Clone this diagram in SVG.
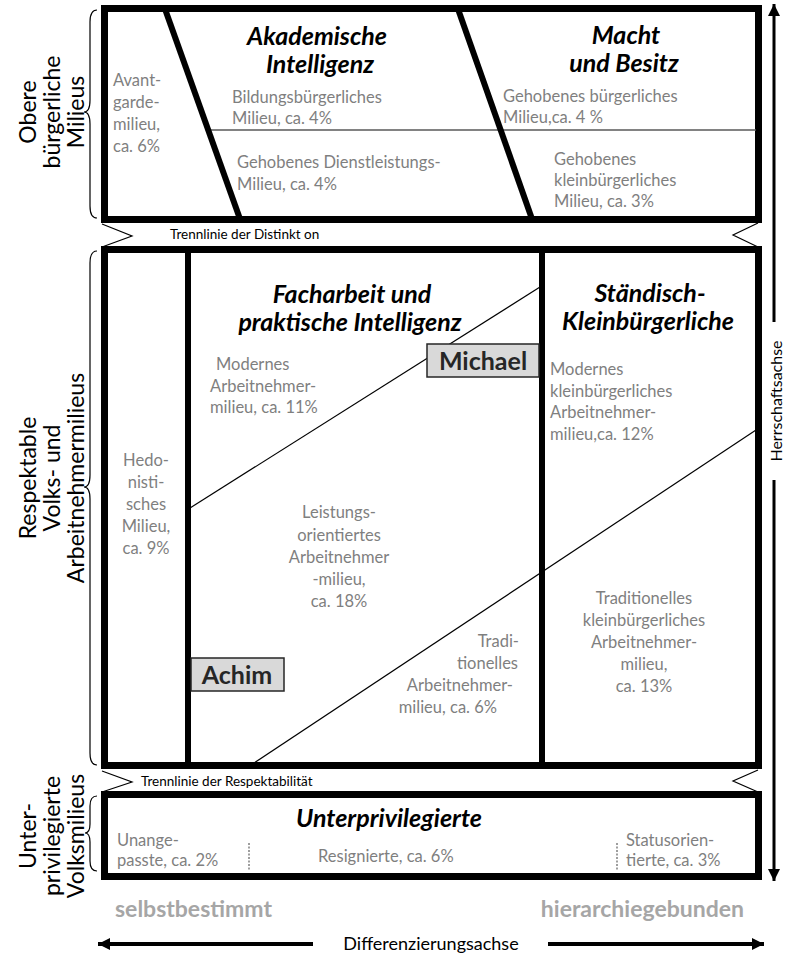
<svg xmlns="http://www.w3.org/2000/svg" width="786" height="954" viewBox="0 0 786 954">
<style>
text{font-family:Lato,"Liberation Sans",sans-serif}
.frame{fill:none;stroke:#000;stroke-width:7}
.thick{stroke:#000;stroke-width:6;fill:none}
.thin{stroke:#000;stroke-width:1.2;fill:none}
.grayline{stroke:#595959;stroke-width:1.5}
.g{fill:#7f7f7f;font-size:16.5px}
.h{fill:#000;font-size:25px;font-weight:bold;font-style:italic;text-anchor:middle}
.side{fill:#000;font-size:23px;text-anchor:middle}
.sep{fill:#000;font-size:13.5px}
.brace{fill:none;stroke:#000;stroke-width:1.2}
.name{fill:#d9d9d9;stroke:#262626;stroke-width:1.5}
.nt{fill:#262626;font-size:25px;font-weight:bold;text-anchor:middle}
.pole{fill:#a6a6a6;font-size:23px;font-weight:bold}
.chev{fill:none;stroke:#000;stroke-width:1.2}
.dash{stroke:#7f7f7f;stroke-width:1.5;stroke-dasharray:2,1.5}
.c{text-anchor:middle}
.axis{stroke:#000;fill:none}
</style>
<defs>
<marker id="ah" markerWidth="12" markerHeight="12" refX="12" refY="6" orient="auto" markerUnits="userSpaceOnUse">
<path d="M0,0 L12,6 L0,12 z" fill="#000"/>
</marker>
</defs>
<rect width="786" height="954" fill="#fff"/>

<g id="side-labels">
<text class="side" transform="translate(36,112) rotate(-90)">Obere</text>
<text class="side" transform="translate(60,112) rotate(-90)">bürgerliche</text>
<text class="side" transform="translate(84,112) rotate(-90)">Milieus</text>
<path class="brace" d="M97,10 Q90,10 90,22 L90,100 Q90,112 84,112 Q90,112 90,124 L90,206 Q90,218 97,218"/>
<text class="side" transform="translate(36,478) rotate(-90)">Respektable</text>
<text class="side" transform="translate(60,478) rotate(-90)">Volks- und</text>
<text class="side" transform="translate(84,478) rotate(-90)">Arbeitnehmermilieus</text>
<path class="brace" d="M97,251 Q90,251 90,263 L90,475 Q90,487 84,487 Q90,487 90,499 L90,753 Q90,765 97,765"/>
<text class="side" transform="translate(36,836) rotate(-90)">Unter-</text>
<text class="side" transform="translate(60,836) rotate(-90)">privilegierte</text>
<text class="side" transform="translate(84,836) rotate(-90)">Volksmilieus</text>
<path class="brace" d="M97,796 Q90,796 90,806 L90,824 Q90,833 85,833 Q90,833 90,842 L90,861 Q90,871 97,871"/>
</g>

<g id="top-section">
<rect class="frame" x="104.5" y="8.5" width="654" height="211"/>
<line class="grayline" x1="208" y1="130" x2="756" y2="130"/>
<line class="thick" x1="165" y1="9" x2="240" y2="219"/>
<line class="thick" x1="458" y1="9" x2="532" y2="219"/>
<text class="h" x="317" y="45">Akademische</text>
<text class="h" x="320" y="73">Intelligenz</text>
<text class="h" x="626" y="44">Macht</text>
<text class="h" x="624" y="72">und Besitz</text>
<text class="g"><tspan x="113" y="86">Avant-</tspan><tspan x="113" y="108">garde-</tspan><tspan x="113" y="130">milieu,</tspan><tspan x="113" y="152">ca. 6%</tspan></text>
<text class="g"><tspan x="232" y="103">Bildungsbürgerliches</tspan><tspan x="232" y="124">Milieu, ca. 4%</tspan></text>
<text class="g"><tspan x="237" y="168">Gehobenes Dienstleistungs-</tspan><tspan x="237" y="190">Milieu, ca. 4%</tspan></text>
<text class="g"><tspan x="503" y="102">Gehobenes bürgerliches</tspan><tspan x="503" y="123">Milieu,ca. 4 %</tspan></text>
<text class="g"><tspan x="554" y="165">Gehobenes</tspan><tspan x="554" y="186">kleinbürgerliches</tspan><tspan x="554" y="207">Milieu, ca. 3%</tspan></text>
</g>

<g id="sep-distinktion">
<polyline class="chev" points="102,224 132,236 102,247"/>
<polyline class="chev" points="758,223 733,235 758,247"/>
<text class="sep" x="170" y="239">Trennlinie der Distinkt on</text>
</g>

<g id="middle-section">
<rect class="frame" x="104.5" y="249.5" width="654" height="516"/>
<line class="thick" x1="188" y1="250" x2="188" y2="766"/>
<line class="thick" x1="542" y1="250" x2="542" y2="766"/>
<line class="thin" x1="190" y1="508" x2="540" y2="287"/>
<line class="thin" x1="251" y1="765" x2="756" y2="430"/>
<text class="h" x="352" y="303">Facharbeit und</text>
<text class="h" x="350" y="331">praktische Intelligenz</text>
<text class="h" x="650" y="302">Ständisch-</text>
<text class="h" x="648" y="330">Kleinbürgerliche</text>
<text class="g"><tspan x="216" y="370">Modernes</tspan><tspan x="210" y="392">Arbeitnehmer-</tspan><tspan x="210" y="413">milieu, ca. 11%</tspan></text>
<text class="g"><tspan x="550" y="375">Modernes</tspan><tspan x="550" y="397">kleinbürgerliches</tspan><tspan x="550" y="418">Arbeitnehmer-</tspan><tspan x="550" y="440">milieu,ca. 12%</tspan></text>
<text class="g c"><tspan x="146" y="466">Hedo-</tspan><tspan x="146" y="488">nisti-</tspan><tspan x="146" y="510">sches</tspan><tspan x="146" y="532">Milieu,</tspan><tspan x="146" y="554">ca. 9%</tspan></text>
<text class="g c"><tspan x="339" y="518">Leistungs-</tspan><tspan x="339" y="541">orientiertes</tspan><tspan x="339" y="563">Arbeitnehmer</tspan><tspan x="339" y="585">-milieu,</tspan><tspan x="339" y="607">ca. 18%</tspan></text>
<text class="g" text-anchor="end"><tspan x="519" y="647">Tradi-</tspan><tspan x="518" y="669">tionelles</tspan><tspan x="513" y="691">Arbeitnehmer-</tspan><tspan x="497" y="713">milieu, ca. 6%</tspan></text>
<text class="g c"><tspan x="644" y="604">Traditionelles</tspan><tspan x="644" y="626">kleinbürgerliches</tspan><tspan x="644" y="648">Arbeitnehmer-</tspan><tspan x="644" y="670">milieu,</tspan><tspan x="644" y="692">ca. 13%</tspan></text>
</g>

<g id="michael">
<rect class="name" x="427" y="344" width="112" height="33"/>
<text class="nt" x="483" y="370">Michael</text>
</g>
<g id="achim">
<rect class="name" x="191" y="658" width="93" height="33"/>
<text class="nt" x="237" y="684">Achim</text>
</g>

<g id="sep-respektabilitaet">
<polyline class="chev" points="102,771 132,782 102,792"/>
<polyline class="chev" points="758,770 733,781 758,792"/>
<text class="sep" x="141" y="786">Trennlinie der Respektabilität</text>
</g>

<g id="bottom-section">
<rect class="frame" x="104.5" y="794.5" width="654" height="82"/>
<text class="h" x="389" y="827">Unterprivilegierte</text>
<text class="g"><tspan x="117" y="846">Unange-</tspan><tspan x="117" y="866">passte, ca. 2%</tspan></text>
<line class="dash" x1="249" y1="843" x2="249" y2="870"/>
<text class="g" x="318" y="862">Resignierte, ca. 6%</text>
<line class="dash" x1="617" y1="843" x2="617" y2="870"/>
<text class="g"><tspan x="626" y="846">Statusorien-</tspan><tspan x="626" y="866">tierte, ca. 3%</tspan></text>
</g>

<g id="connectors">
<line class="axis" x1="774" y1="322" x2="774" y2="4" stroke-width="3" marker-end="url(#ah)"/>
<line class="axis" x1="774" y1="480" x2="774" y2="881" stroke-width="3" marker-end="url(#ah)"/>
<line class="axis" x1="313" y1="944" x2="98" y2="944" stroke-width="4" marker-end="url(#ah)"/>
<line class="axis" x1="548" y1="944" x2="764" y2="944" stroke-width="4" marker-end="url(#ah)"/>
</g>

<g id="axis-labels">
<text fill="#000" font-size="16" text-anchor="middle" transform="translate(782,401) rotate(-90)">Herrschaftsachse</text>
<text fill="#000" font-size="18" text-anchor="middle" x="431" y="950">Differenzierungsachse</text>
<text class="pole" x="115" y="917">selbstbestimmt</text>
<text class="pole" x="744" y="917" text-anchor="end">hierarchiegebunden</text>
</g>
</svg>
